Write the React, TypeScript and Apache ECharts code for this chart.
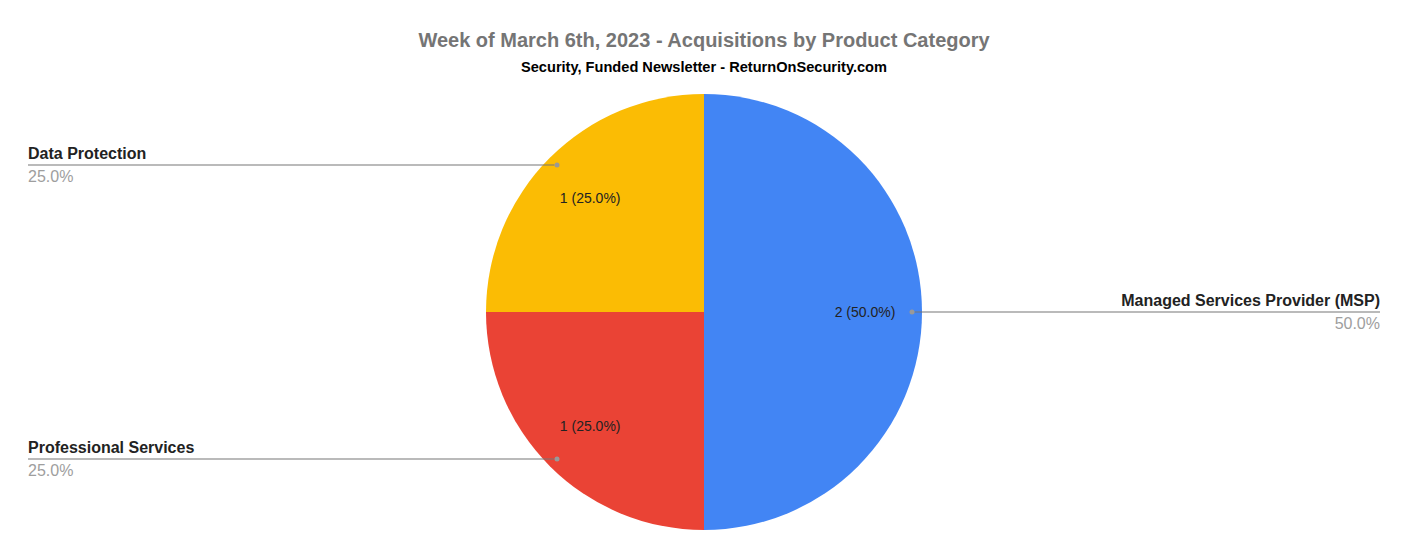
import React, { useEffect, useRef } from "react";
import * as echarts from "echarts";

const titleText = "Week of March 6th, 2023 - Acquisitions by Product Category";
const subtitleText = "Security, Funded Newsletter - ReturnOnSecurity.com";
const categories = ["Managed Services Provider (MSP)", "Professional Services", "Data Protection"];
const values = [2, 1, 1];
const colors = ["#4285F4", "#EA4335", "#FBBC04"];

const FONT = "'Liberation Sans', Arial, sans-serif";

export default function App() {
  const ref = useRef<HTMLDivElement>(null);
  useEffect(() => {
    if (!ref.current) return;
    const chart = echarts.init(ref.current, null, { renderer: "svg" });
    const center = ["50%", 312];
    const baseData = categories.map((c, i) => ({ name: c, value: values[i] }));
    const transparentPie = {
      type: "pie",
      center,
      startAngle: 90,
      silent: true,
      emphasis: { disabled: true },
      itemStyle: { color: "rgba(0,0,0,0)" },
    };
    chart.setOption({
      animation: false,
      backgroundColor: "#ffffff",
      title: [
        {
          text: titleText,
          left: "center",
          top: 23,
          textStyle: { fontFamily: FONT, fontSize: 20, fontWeight: "bold", color: "#757575", lineHeight: 24 },
        },
        {
          text: subtitleText,
          left: "center",
          top: 53,
          textStyle: { fontFamily: FONT, fontSize: 14.6, fontWeight: "bold", color: "#000000", lineHeight: 18 },
        },
      ],
      series: [
        {
          type: "pie",
          center,
          radius: [0, 218],
          startAngle: 90,
          clockwise: true,
          silent: true,
          emphasis: { disabled: true },
          label: { show: false },
          labelLine: { show: false },
          data: baseData.map((d, i) => ({ ...d, itemStyle: { color: colors[i] } })),
        },
        {
          ...transparentPie,
          radius: [98, 218],
          label: {
            show: true,
            position: "inside",
            fontFamily: FONT,
            fontSize: 14,
            color: "#222222",
            formatter: (p: any) => `${p.value} (${p.percent.toFixed(1)}%)`,
          },
          labelLine: { show: false },
          data: baseData,
        },
        {
          ...transparentPie,
          radius: [0, 208],
          labelLine: { show: false, length: 0, length2: 0 },
          data: baseData.map((d, i) => {
            const right = i === 0;
            const align = right ? "right" : "left";
            const ruleW = right ? 465.5 : 526.5;
            return {
              ...d,
              label: {
                show: true,
                position: "outside",
                alignTo: "edge",
                edgeDistance: 28,
                distanceToLabelLine: 0,
                width: ruleW + 5,
                formatter: (p: any) =>
                  `{n|${p.name}}\n${right ? "{d| }{r| }" : "{r| }{d| }"}\n{p|${p.percent.toFixed(1)}%}`,
                rich: {
                  n: { fontFamily: FONT, fontSize: 16, fontWeight: "bold", color: "#222222", lineHeight: 18, align },
                  r: { width: ruleW, height: 1, lineHeight: 5, fontSize: 1, backgroundColor: "#777777" },
                  d: { width: 5, height: 5, lineHeight: 5, fontSize: 1, borderRadius: 2.5, backgroundColor: "#999999" },
                  p: { fontFamily: FONT, fontSize: 16, color: "#9e9e9e", lineHeight: 18, align },
                },
              },
            };
          }),
        },
      ],
    });
    return () => chart.dispose();
  }, []);
  return <div ref={ref} style={{ position: "fixed", left: 0, top: 0, width: 1408, height: 558 }} />;
}
